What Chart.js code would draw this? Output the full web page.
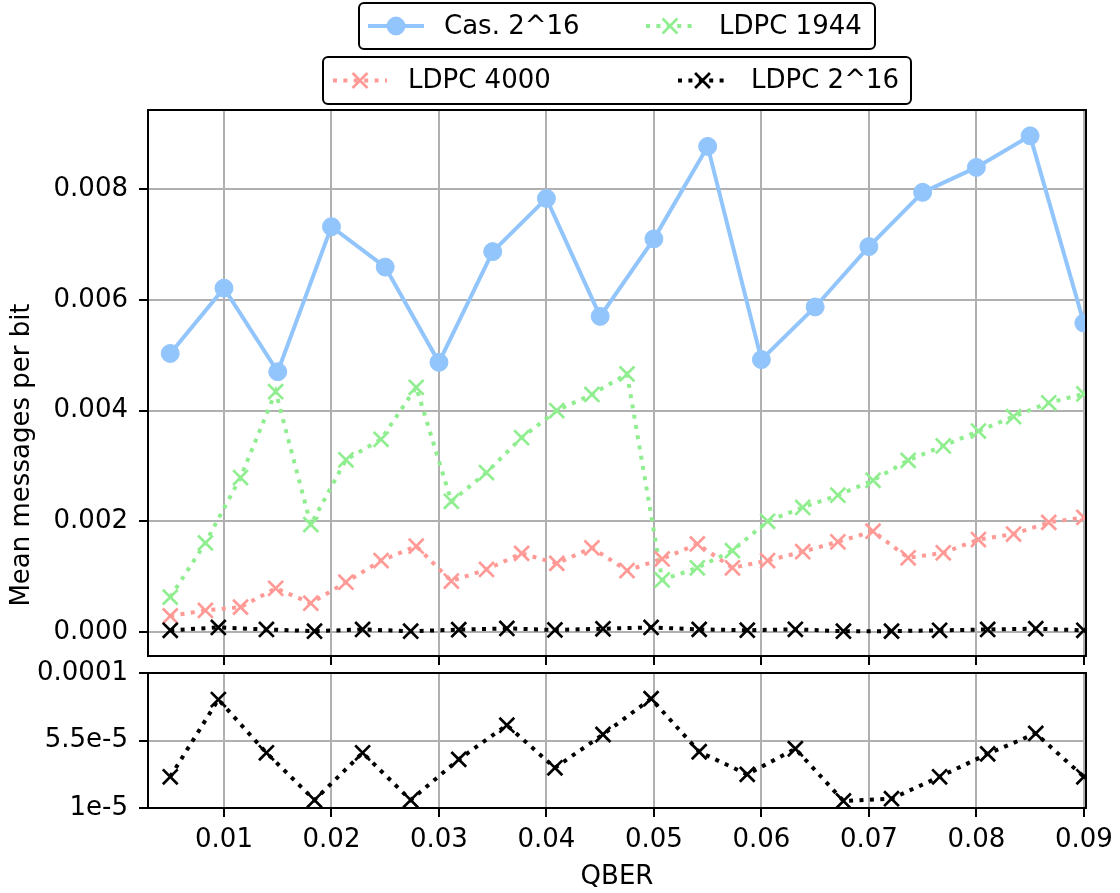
<!DOCTYPE html>
<html>
<head>
<meta charset="utf-8">
<script src="https://cdn.jsdelivr.net/npm/chart.js@4.4.1/dist/chart.umd.min.js"></script>
<style>
  html, body { margin: 0; padding: 0; background: #fff; }
  #wrap { position: relative; width: 1120px; height: 893px; background: #fff; }
  #wrap canvas { position: absolute; left: 0; top: 0; }
</style>
</head>
<body>
<div id="wrap">
  <canvas id="topChart" width="1120" height="893"></canvas>
  <canvas id="bottomChart" width="1120" height="893"></canvas>
</div>
<script>
// QBER sample points for each series
const qberCas = [0.005, 0.01, 0.015, 0.02, 0.025, 0.03, 0.035, 0.04, 0.045,
  0.05, 0.055, 0.06, 0.065, 0.07, 0.075, 0.08, 0.085, 0.09];
const qberLdpc = [0.005, 0.008269, 0.011538, 0.014808, 0.018077, 0.021346, 0.024615,
  0.027885, 0.031154, 0.034423, 0.037692, 0.040962, 0.044231, 0.0475, 0.050769,
  0.054038, 0.057308, 0.060577, 0.063846, 0.067115, 0.070385, 0.073654, 0.076923,
  0.080192, 0.083462, 0.086731, 0.09];
const qberLdpc216 = [0.005, 0.009474, 0.013947, 0.018421, 0.022895, 0.027368,
  0.031842, 0.036316, 0.040789, 0.045263, 0.049737, 0.054211, 0.058684, 0.063158,
  0.067632, 0.072105, 0.076579, 0.081053, 0.085526, 0.09];

// mean messages per bit
const cas216 = [0.00503, 0.00621, 0.00470, 0.00732, 0.00659, 0.00487, 0.00687,
  0.00783, 0.00570, 0.00710, 0.00877, 0.00492, 0.00587, 0.00696, 0.00794,
  0.00839, 0.00896, 0.00558];
const ldpc1944 = [0.00063, 0.00161, 0.00279, 0.00434, 0.00194, 0.00311, 0.00348,
  0.00442, 0.00236, 0.00288, 0.00351, 0.00400, 0.00429, 0.00466, 0.00094,
  0.00116, 0.00147, 0.00200, 0.00225, 0.00247, 0.00274, 0.00310, 0.00336,
  0.00363, 0.00389, 0.00414, 0.00430];
const ldpc4000 = [0.00029, 0.00039, 0.00045, 0.00079, 0.00052, 0.00090, 0.00129,
  0.00155, 0.00092, 0.00113, 0.00142, 0.00124, 0.00152, 0.00111, 0.00132,
  0.00159, 0.00116, 0.00129, 0.00145, 0.00163, 0.00182, 0.00134, 0.00143,
  0.00167, 0.00177, 0.00198, 0.00207];
const ldpc216 = [3.08e-5, 8.23e-5, 4.68e-5, 1.53e-5, 4.68e-5, 1.53e-5, 4.24e-5,
  6.52e-5, 3.68e-5, 5.90e-5, 8.29e-5, 4.75e-5, 3.24e-5, 4.95e-5, 1.47e-5,
  1.62e-5, 3.08e-5, 4.61e-5, 5.97e-5, 3.08e-5];

const seriesNames = ["Cas. 2^16", "LDPC 1944", "LDPC 4000", "LDPC 2^16"];

// ticks
const xTicks = [0.01, 0.02, 0.03, 0.04, 0.05, 0.06, 0.07, 0.08, 0.09];
const xTickLabels = ["0.01", "0.02", "0.03", "0.04", "0.05", "0.06", "0.07", "0.08", "0.09"];
const yTopTicks = [0, 0.002, 0.004, 0.006, 0.008];
const yTopTickLabels = ["0.000", "0.002", "0.004", "0.006", "0.008"];
const yBottomTicks = [1e-5, 5.5e-5, 1e-4];
const yBottomTickLabels = ["1e-5", "5.5e-5", "0.0001"];

const FONT = "DejaVu Sans";
const FONT_SIZE = 26;
Chart.defaults.font.family = FONT;
Chart.defaults.font.size = FONT_SIZE;
Chart.defaults.color = "#000";

const toPoints = (xs, ys) => xs.map((x, i) => ({ x, y: ys[i] }));
const dotted = [4, 6.4];

function lineSet(label, xs, ys, color, style, dash, order) {
  const isCircle = style === "circle";
  return {
    label,
    data: toPoints(xs, ys),
    borderColor: color,
    backgroundColor: color,
    borderWidth: 4,
    borderDash: dash,
    borderCapStyle: "butt",
    pointStyle: style,
    pointRadius: isCircle ? 9 : 10.5,
    pointHoverRadius: isCircle ? 9 : 10.5,
    pointBorderWidth: isCircle ? 1 : 2.7,
    pointBorderColor: color,
    pointBackgroundColor: color,
    tension: 0,
    clip: 0,
    order,
  };
}

const gridStyle = {
  color: "#b0b0b0",
  lineWidth: 2,
  tickColor: "#000",
  tickWidth: 2,
  tickLength: 9,
};

function fixedTicks(values) {
  return (scale) => { scale.ticks = values.map((v) => ({ value: v })); };
}

const frame = {
  id: "frame",
  afterDraw(chart) {
    const { ctx, chartArea: a } = chart;
    ctx.save();
    ctx.strokeStyle = "#000";
    ctx.lineWidth = 2;
    ctx.strokeRect(a.left, a.top, a.right - a.left, a.bottom - a.top);
    ctx.restore();
  },
};

function roundRect(ctx, x, y, w, h, r) {
  ctx.beginPath();
  ctx.moveTo(x + r, y);
  ctx.arcTo(x + w, y, x + w, y + h, r);
  ctx.arcTo(x + w, y + h, x, y + h, r);
  ctx.arcTo(x, y + h, x, y, r);
  ctx.arcTo(x, y, x + w, y, r);
  ctx.closePath();
}

function drawHandle(ctx, ds, x0, x1, y) {
  ctx.save();
  ctx.strokeStyle = ds.borderColor;
  ctx.lineWidth = ds.borderWidth;
  ctx.lineCap = "butt";
  ctx.setLineDash(ds.borderDash || []);
  ctx.beginPath();
  ctx.moveTo(x0, y);
  ctx.lineTo(x1, y);
  ctx.stroke();
  ctx.setLineDash([]);
  ctx.fillStyle = ds.pointBackgroundColor;
  ctx.strokeStyle = ds.pointBorderColor;
  ctx.lineWidth = ds.pointBorderWidth;
  Chart.helpers.drawPoint(ctx, {
    pointStyle: ds.pointStyle, radius: ds.pointRadius,
    borderWidth: ds.pointBorderWidth, rotation: 0,
  }, (x0 + x1) / 2, y);
  ctx.restore();
}

// two framed legends above the plot, two entries each
const legendRows = [
  { box: [359, 3, 516, 46], items: [[0, 368, 424, 444], [1, 646, 694, 719]] },
  { box: [323, 57, 588, 47], items: [[2, 333, 387, 408], [3, 678, 727, 751]] },
];

const boxedLegend = {
  id: "boxedLegend",
  afterDraw(chart) {
    const ctx = chart.ctx;
    ctx.save();
    legendRows.forEach((row) => {
      const [bx, by, bw, bh] = row.box;
      roundRect(ctx, bx, by, bw, bh, 5);
      ctx.fillStyle = "#fff";
      ctx.fill();
      ctx.strokeStyle = "#000";
      ctx.lineWidth = 2;
      ctx.stroke();
      const cy = by + bh / 2;
      row.items.forEach(([idx, x0, x1, tx]) => {
        const ds = chart.data.datasets[idx];
        drawHandle(ctx, ds, x0, x1, cy);
        ctx.fillStyle = "#000";
        ctx.font = `${FONT_SIZE}px "${FONT}"`;
        ctx.textAlign = "left";
        ctx.textBaseline = "middle";
        ctx.fillText(ds.label, tx, cy + 1);
      });
    });
    ctx.restore();
  },
};

const yLabel = {
  id: "yLabel",
  afterDraw(chart) {
    const ctx = chart.ctx;
    ctx.save();
    ctx.translate(22, 455);
    ctx.rotate(-Math.PI / 2);
    ctx.fillStyle = "#000";
    ctx.font = `${FONT_SIZE}px "${FONT}"`;
    ctx.textAlign = "center";
    ctx.textBaseline = "middle";
    ctx.fillText("Mean messages per bit", 0, 0);
    ctx.restore();
  },
};

const X_MIN = 0.00293;
const X_MAX = 0.0902;

new Chart(document.getElementById("topChart"), {
  type: "line",
  data: {
    datasets: [
      lineSet(seriesNames[0], qberCas, cas216, "#92c5fb", "circle", [], 4),
      lineSet(seriesNames[1], qberLdpc, ldpc1944, "#90ee90", "crossRot", dotted, 3),
      lineSet(seriesNames[2], qberLdpc, ldpc4000, "#ff9a96", "crossRot", dotted, 2),
      lineSet(seriesNames[3], qberLdpc216, ldpc216, "#000000", "crossRot", dotted, 1),
    ],
  },
  options: {
    responsive: false,
    animation: false,
    events: [],
    layout: { padding: { top: 110, right: 34, bottom: 228, left: 0 } },
    plugins: { legend: { display: false }, tooltip: { enabled: false } },
    scales: {
      x: {
        type: "linear",
        min: X_MIN,
        max: X_MAX,
        afterBuildTicks: fixedTicks(xTicks),
        ticks: { display: false },
        grid: gridStyle,
        border: { display: false },
        afterFit: (s) => { s.height = 9; s.paddingLeft = 0; s.paddingRight = 0; },
      },
      y: {
        type: "linear",
        min: -0.000433,
        max: 0.009427,
        afterBuildTicks: fixedTicks(yTopTicks),
        ticks: { padding: 11, callback: (v, i) => yTopTickLabels[i] },
        grid: gridStyle,
        border: { display: false },
        afterFit: (s) => { s.width = 148; s.paddingTop = 0; s.paddingBottom = 0; },
      },
    },
  },
  plugins: [frame, boxedLegend, yLabel],
});

new Chart(document.getElementById("bottomChart"), {
  type: "line",
  data: {
    datasets: [
      lineSet(seriesNames[3], qberLdpc216, ldpc216, "#000000", "crossRot", dotted, 1),
    ],
  },
  options: {
    responsive: false,
    animation: false,
    events: [],
    layout: { padding: { top: 673, right: 34, bottom: 0, left: 0 } },
    plugins: { legend: { display: false }, tooltip: { enabled: false } },
    scales: {
      x: {
        type: "linear",
        min: X_MIN,
        max: X_MAX,
        afterBuildTicks: fixedTicks(xTicks),
        ticks: { padding: 8, maxRotation: 0, callback: (v, i) => xTickLabels[i] },
        title: { display: true, text: "QBER", padding: { top: 0, bottom: 0 } },
        grid: gridStyle,
        border: { display: false },
        afterFit: (s) => { s.height = 85; s.paddingLeft = 0; s.paddingRight = 0; },
      },
      y: {
        type: "linear",
        min: 1e-5,
        max: 1e-4,
        afterBuildTicks: fixedTicks(yBottomTicks),
        ticks: { padding: 11, callback: (v, i) => yBottomTickLabels[i] },
        grid: gridStyle,
        border: { display: false },
        afterFit: (s) => { s.width = 148; s.paddingTop = 0; s.paddingBottom = 0; },
      },
    },
  },
  plugins: [frame],
});
</script>
</body>
</html>
